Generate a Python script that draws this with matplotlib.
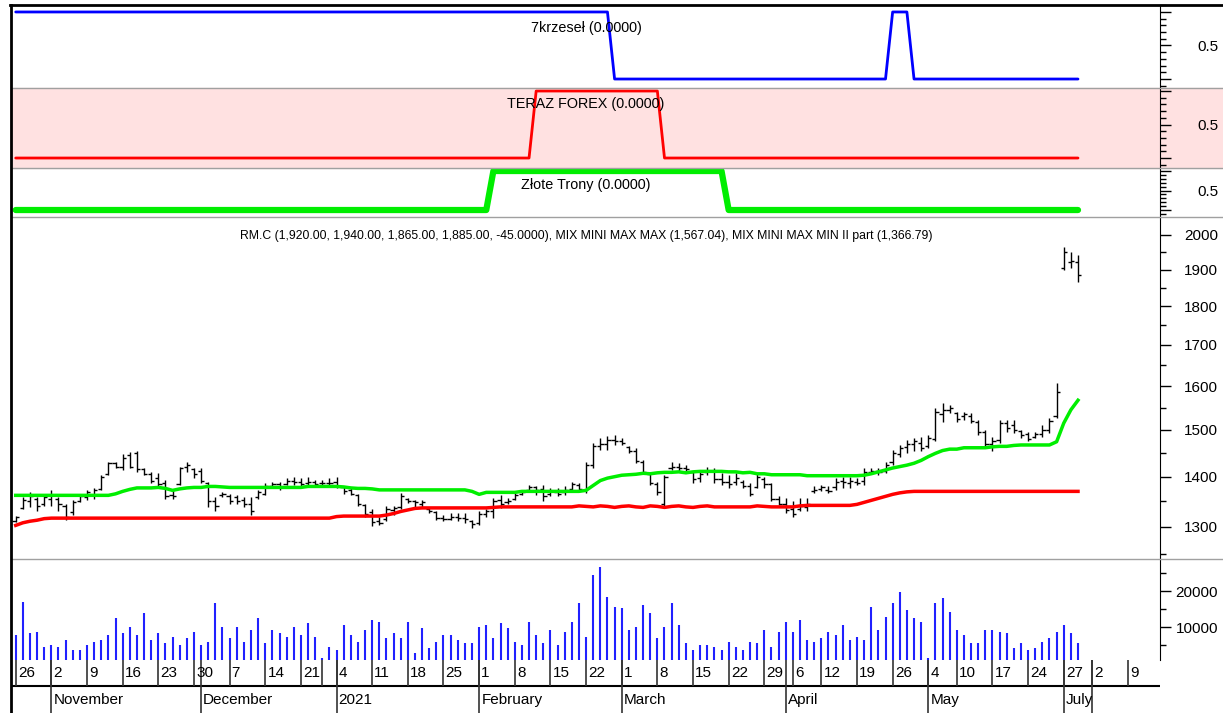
import matplotlib
matplotlib.use('Agg')
import matplotlib.pyplot as plt
from matplotlib.lines import Line2D
from matplotlib.patches import Rectangle
from matplotlib.ticker import FixedLocator, NullFormatter, FixedFormatter, MultipleLocator

plt.rcParams['font.family'] = ['Liberation Sans Narrow', 'Liberation Sans', 'DejaVu Sans']

# ---- data (one entry per trading day) ----
highs = [1322, 1359, 1369, 1359, 1365, 1372, 1359, 1345, 1352, 1365,
         1372, 1376, 1403, 1431, 1431, 1448, 1452, 1455, 1417, 1410,
         1407, 1393, 1372, 1421, 1431, 1417, 1417, 1390, 1359, 1369,
         1365, 1362, 1359, 1359, 1372, 1386, 1390, 1390, 1397, 1400,
         1397, 1400, 1393, 1393, 1397, 1400, 1379, 1376, 1365, 1345,
         1334, 1320, 1340, 1340, 1367, 1357, 1353, 1353, 1337, 1330,
         1324, 1327, 1327, 1327, 1314, 1330, 1334, 1357, 1363, 1357,
         1367, 1373, 1383, 1380, 1383, 1376, 1376, 1380, 1390, 1387,
         1431, 1471, 1482, 1486, 1489, 1482, 1464, 1460, 1435, 1407,
         1390, 1404, 1431, 1428, 1425, 1411, 1414, 1421, 1418, 1407,
         1404, 1407, 1394, 1387, 1407, 1400, 1387, 1360, 1356, 1350,
         1356, 1356, 1380, 1383, 1380, 1397, 1400, 1400, 1397, 1418,
         1418, 1418, 1431, 1456, 1467, 1478, 1482, 1485, 1489, 1549,
         1560, 1556, 1541, 1541, 1537, 1522, 1500, 1485, 1522, 1522,
         1522, 1500, 1496, 1496, 1511, 1526, 1607, 1965, 1950, 1940]
lows = [1310, 1334, 1338, 1331, 1341, 1341, 1331, 1314, 1324, 1348,
        1352, 1355, 1372, 1403, 1417, 1414, 1417, 1410, 1403, 1386,
        1379, 1355, 1355, 1383, 1410, 1397, 1386, 1338, 1331, 1359,
        1345, 1345, 1338, 1324, 1355, 1362, 1376, 1372, 1383, 1383,
        1376, 1379, 1379, 1383, 1383, 1376, 1365, 1362, 1341, 1320,
        1301, 1304, 1311, 1324, 1334, 1347, 1337, 1337, 1327, 1314,
        1311, 1314, 1311, 1307, 1298, 1304, 1320, 1317, 1337, 1344,
        1353, 1363, 1370, 1363, 1350, 1360, 1360, 1363, 1373, 1373,
        1367, 1418, 1457, 1457, 1468, 1468, 1450, 1428, 1407, 1383,
        1363, 1337, 1414, 1411, 1407, 1387, 1390, 1404, 1387, 1383,
        1376, 1383, 1376, 1360, 1376, 1376, 1350, 1343, 1327, 1320,
        1330, 1330, 1366, 1370, 1366, 1373, 1376, 1376, 1383, 1383,
        1407, 1404, 1407, 1425, 1442, 1449, 1453, 1453, 1460, 1475,
        1518, 1537, 1518, 1522, 1515, 1489, 1460, 1453, 1471, 1496,
        1493, 1482, 1475, 1482, 1485, 1493, 1526, 1900, 1905, 1865]
opens = [1312, 1336, 1350, 1355, 1345, 1355, 1355, 1340, 1328, 1350,
         1358, 1362, 1374, 1405, 1428, 1420, 1445, 1450, 1415, 1405,
         1398, 1388, 1362, 1385, 1420, 1415, 1412, 1388, 1350, 1362,
         1360, 1358, 1352, 1345, 1358, 1365, 1380, 1385, 1385, 1392,
         1390, 1388, 1390, 1386, 1388, 1390, 1378, 1372, 1362, 1342,
         1328, 1312, 1315, 1332, 1338, 1355, 1350, 1345, 1335, 1328,
         1318, 1316, 1320, 1318, 1312, 1308, 1325, 1330, 1352, 1348,
         1355, 1365, 1372, 1378, 1375, 1365, 1368, 1368, 1375, 1382,
         1372, 1425, 1465, 1470, 1478, 1476, 1462, 1455, 1430, 1405,
         1385, 1345, 1418, 1420, 1418, 1410, 1398, 1410, 1412, 1395,
         1390, 1390, 1390, 1380, 1378, 1395, 1385, 1355, 1345, 1335,
         1335, 1338, 1370, 1375, 1372, 1378, 1392, 1388, 1390, 1392,
         1410, 1412, 1412, 1430, 1448, 1462, 1470, 1472, 1465, 1480,
         1535, 1545, 1538, 1530, 1532, 1518, 1495, 1470, 1478, 1515,
         1510, 1498, 1490, 1485, 1490, 1500, 1530, 1905, 1920, 1920]
closes = [1320, 1352, 1360, 1340, 1358, 1362, 1345, 1320, 1348, 1360,
          1368, 1372, 1400, 1428, 1420, 1440, 1420, 1415, 1405, 1392,
          1384, 1360, 1360, 1418, 1425, 1405, 1392, 1350, 1340, 1365,
          1350, 1350, 1345, 1330, 1368, 1380, 1385, 1378, 1392, 1390,
          1385, 1390, 1385, 1388, 1386, 1380, 1370, 1365, 1345, 1325,
          1310, 1308, 1335, 1336, 1360, 1350, 1348, 1348, 1330, 1318,
          1315, 1320, 1318, 1315, 1305, 1325, 1330, 1350, 1345, 1350,
          1362, 1368, 1378, 1372, 1360, 1370, 1365, 1372, 1385, 1375,
          1425, 1465, 1470, 1478, 1475, 1472, 1455, 1432, 1410, 1388,
          1368, 1400, 1420, 1418, 1415, 1395, 1405, 1412, 1395, 1390,
          1385, 1398, 1380, 1365, 1400, 1385, 1355, 1345, 1332, 1325,
          1340, 1345, 1372, 1378, 1370, 1390, 1390, 1392, 1388, 1410,
          1412, 1410, 1425, 1450, 1460, 1470, 1475, 1460, 1482, 1540,
          1545, 1550, 1525, 1535, 1520, 1495, 1470, 1475, 1515, 1505,
          1500, 1488, 1480, 1490, 1500, 1520, 1585, 1950, 1925, 1885]
mix_max = [1362, 1362, 1362, 1362, 1362, 1362, 1362, 1362, 1362, 1362,
           1362, 1362, 1362, 1362, 1365, 1370, 1374, 1377, 1377, 1377,
           1378, 1376, 1372, 1375, 1377, 1378, 1378, 1380, 1380, 1379,
           1378, 1378, 1378, 1378, 1378, 1378, 1378, 1378, 1378, 1378,
           1378, 1380, 1380, 1380, 1380, 1380, 1379, 1377, 1376, 1376,
           1375, 1373, 1373, 1373, 1373, 1373, 1373, 1373, 1373, 1373,
           1373, 1373, 1373, 1373, 1370, 1364, 1368, 1368, 1368, 1368,
           1368, 1370, 1370, 1370, 1370, 1370, 1370, 1370, 1370, 1370,
           1372, 1382, 1392, 1397, 1400, 1403, 1404, 1405, 1407, 1406,
           1408, 1409, 1409, 1410, 1408, 1410, 1411, 1411, 1411, 1411,
           1410, 1410, 1408, 1409, 1406, 1406, 1404, 1404, 1404, 1404,
           1404, 1402, 1402, 1402, 1402, 1402, 1402, 1402, 1402, 1403,
           1406, 1410, 1414, 1418, 1421, 1424, 1428, 1434, 1442, 1449,
           1455, 1458, 1458, 1461, 1461, 1461, 1461, 1463, 1464, 1464,
           1466, 1467, 1467, 1467, 1467, 1467, 1474, 1515, 1545, 1567]
mix_min = [1303, 1308, 1311, 1313, 1316, 1317, 1317, 1317, 1317, 1317,
           1317, 1317, 1317, 1317, 1317, 1317, 1317, 1317, 1317, 1317,
           1317, 1317, 1317, 1317, 1317, 1317, 1317, 1317, 1317, 1317,
           1317, 1317, 1317, 1317, 1317, 1317, 1317, 1317, 1317, 1317,
           1317, 1317, 1317, 1317, 1317, 1320, 1321, 1321, 1321, 1321,
           1321, 1321, 1323, 1326, 1330, 1333, 1336, 1337, 1337, 1337,
           1337, 1337, 1337, 1337, 1337, 1337, 1337, 1338, 1339, 1339,
           1339, 1339, 1339, 1339, 1339, 1339, 1339, 1339, 1339, 1341,
           1340, 1339, 1341, 1340, 1338, 1340, 1341, 1339, 1338, 1341,
           1340, 1338, 1340, 1341, 1339, 1338, 1340, 1341, 1339, 1339,
           1339, 1339, 1339, 1339, 1341, 1340, 1339, 1339, 1339, 1339,
           1341, 1342, 1342, 1342, 1342, 1342, 1342, 1342, 1344, 1348,
           1352, 1356, 1360, 1364, 1367, 1369, 1370, 1370, 1370, 1370,
           1370, 1370, 1370, 1370, 1370, 1370, 1370, 1370, 1370, 1370,
           1370, 1370, 1370, 1370, 1370, 1370, 1370, 1370, 1370, 1370]
volume = [7800, 17000, 8200, 8700, 4500, 5000, 4500, 6400, 3600, 3600,
          5000, 5900, 6400, 7800, 12400, 8200, 10100, 7800, 13800, 6400,
          8200, 5500, 7300, 5000, 6900, 8700, 5000, 5900, 16600, 10100,
          6900, 10100, 5900, 9200, 12400, 5500, 9200, 8200, 7300, 10100,
          7800, 11000, 7300, 1300, 4500, 3600, 10600, 7800, 5900, 9200,
          11900, 11500, 6900, 8200, 6900, 11500, 2700, 9600, 4100, 5900,
          7800, 7800, 6400, 5500, 5500, 10100, 10600, 6900, 11000, 9600,
          5900, 5000, 11500, 7800, 5500, 9200, 5000, 8700, 11500, 16600,
          7300, 24400, 26800, 18400, 15600, 15200, 9200, 10100, 16100, 13800,
          6900, 10100, 16600, 10600, 5500, 3600, 5000, 5000, 4500, 3600,
          5900, 4500, 3600, 5900, 5500, 9200, 4500, 8700, 11500, 8700,
          11900, 6400, 5900, 6900, 8700, 7800, 10600, 6400, 7300, 6400,
          15600, 9200, 12900, 16600, 19800, 14700, 12400, 11500, 1500, 16600,
          18000, 14300, 9200, 7800, 5500, 5500, 9200, 9200, 8700, 8200,
          4100, 5500, 3600, 4100, 5900, 6900, 8700, 10600, 8200, 5500]

# signal indicators (1 = on, 0 = off)
krzesel = [1] * 84 + [0] * 39 + [1] * 3 + [0] * 24
teraz_forex = [0] * 73 + [1] * 18 + [0] * 59
zlote_trony = [0] * 67 + [1] * 33 + [0] * 50

# date axis
day_pos = [0, 5, 10, 15, 20, 25, 30, 35, 40, 43, 45, 50, 55, 60, 65, 70, 75, 80,
           85, 90, 95, 100, 105, 109, 113, 118, 123, 128, 132, 137, 142, 147, 151, 156]
day_lbl = ['26', '2', '9', '16', '23', '30', '7', '14', '21', '', '4', '11', '18', '25',
           '1', '8', '15', '22', '1', '8', '15', '22', '29', '6', '12', '19', '26',
           '4', '10', '17', '24', '27', '2', '9']
month_pos = [5, 26, 45, 65, 85, 108, 128, 147, 151]
month_lbl = ['November', 'December', '2021', 'February', 'March', 'April', 'May', 'July', '']

title = ('RM.C (1,920.00, 1,940.00, 1,865.00, 1,885.00, -45.0000), '
         'MIX MINI MAX MAX (1,567.04), MIX MINI MAX MIN II part (1,366.79)')

W, H = 1223, 713
fig = plt.figure(figsize=(W / 100, H / 100), dpi=100)
XL, XR = 12, 1160


def box(top, bottom):
    return [XL / W, 1 - bottom / H, (XR - XL) / W, (bottom - top) / H]


x = list(range(len(closes)))
xlim = (-0.52, 160.5)

# background for the second indicator strip
fig.patches.append(Rectangle((XL / W, 1 - 168 / H), (W - XL) / W, 80 / H,
                             transform=fig.transFigure, color='#ffe1e1', zorder=-5))

ax1 = fig.add_axes(box(5, 88))
ax2 = fig.add_axes(box(88, 168))
ax3 = fig.add_axes(box(168, 217))
axp = fig.add_axes(box(217, 559))
axv = fig.add_axes(box(559, 660))
axd = fig.add_axes(box(660, 713))

lab_fs = 11
pad_pt = (1215 - XR - 8) * 0.72

for ax in (ax1, ax2, ax3, axp, axv):
    ax.set_facecolor('none')
    ax.set_xlim(*xlim)
    ax.set_xticks([])
    for s in ('left', 'top', 'bottom'):
        ax.spines[s].set_visible(False)
    ax.spines['right'].set_color('black')
    ax.yaxis.tick_right()
    ax.tick_params(axis='y', which='major', length=8, width=1, labelsize=lab_fs, pad=pad_pt)
    ax.tick_params(axis='y', which='minor', length=4, width=1)

# indicator strips
ind = [(ax1, krzesel, '#0000ff', 2.0, (-0.134, 1.104), '7krzeseł (0.0000)', 0.72),
       (ax2, teraz_forex, '#ff0000', 2.0, (-0.149, 1.045), 'TERAZ FOREX (0.0000)', 0.80),
       (ax3, zlote_trony, '#00ee00', 4.5, (-0.179, 1.077), 'Złote Trony (0.0000)', 0.65)]
for ax, vals, col, lw, yl, name, ty in ind:
    ax.plot(x, vals, color=col, lw=lw, solid_capstyle='round')
    ax.set_ylim(*yl)
    ax.yaxis.set_major_locator(FixedLocator([0, 0.5, 1]))
    ax.yaxis.set_major_formatter(FixedFormatter(['', '0.5', '']))
    ax.yaxis.set_minor_locator(MultipleLocator(0.1))
    ax.text(0.5, ty, name, transform=ax.transAxes, ha='center', va='center', fontsize=10.4)

# price panel
axp.set_yscale('log')
axp.set_ylim(1240, 2053)
axp.vlines(x, lows, highs, color='black', lw=1)
axp.hlines(opens, [i - 0.45 for i in x], x, color='black', lw=1)
axp.hlines(closes, x, [i + 0.45 for i in x], color='black', lw=1)
axp.plot(x, mix_max, color='#00ee00', lw=2.5)
axp.plot(x, mix_min, color='#ff0000', lw=2.5)
axp.yaxis.set_major_locator(FixedLocator([1300, 1400, 1500, 1600, 1700, 1800, 1900, 2000]))
axp.yaxis.set_major_formatter(FixedFormatter(['1300', '1400', '1500', '1600', '1700', '1800', '1900', '2000']))
axp.yaxis.set_minor_locator(FixedLocator([1250, 1350, 1450, 1550, 1650, 1750, 1850, 1950]))
axp.yaxis.set_minor_formatter(NullFormatter())
axp.text(0.5, 0.944, title, transform=axp.transAxes, ha='center', va='center', fontsize=8.8)

# volume panel
axv.vlines(x, 0, volume, color='#2020ff', lw=1.5)
axv.set_ylim(833, 28900)
axv.yaxis.set_major_locator(FixedLocator([10000, 20000]))
axv.yaxis.set_major_formatter(FixedFormatter(['10000', '20000']))
axv.yaxis.set_minor_locator(FixedLocator([5000, 15000, 25000]))

for ax in (ax1, ax2, ax3, axp, axv):
    plt.setp(ax.get_yticklabels(), ha='right')

# date axis
axd.set_xlim(*xlim)
axd.set_ylim(0, 1)
axd.axis('off')
axd.axhline(0.51, color='black', lw=1.5)
axd.vlines(day_pos, 0.51, 1, color='#333333', lw=1.2)
axd.vlines(month_pos, 0, 1, color='#333333', lw=1.2)
for p, t in zip(day_pos, day_lbl):
    axd.text(p + 0.3, 0.75, t, ha='left', va='center', fontsize=11)
for p, t in zip(month_pos, month_lbl):
    axd.text(p + 0.3, 0.25, t, ha='left', va='center', fontsize=11)

# frame lines
for yy in (88, 168, 217, 559):
    fig.add_artist(Line2D([XL / W, 1], [1 - yy / H, 1 - yy / H], color='#a0a0a0', lw=1))
fig.add_artist(Line2D([10 / W, 1], [1 - 5 / H, 1 - 5 / H], color='black', lw=2))
fig.add_artist(Line2D([11 / W, 11 / W], [0, 1 - 5 / H], color='black', lw=2))

fig.savefig('out.png', dpi=100)
